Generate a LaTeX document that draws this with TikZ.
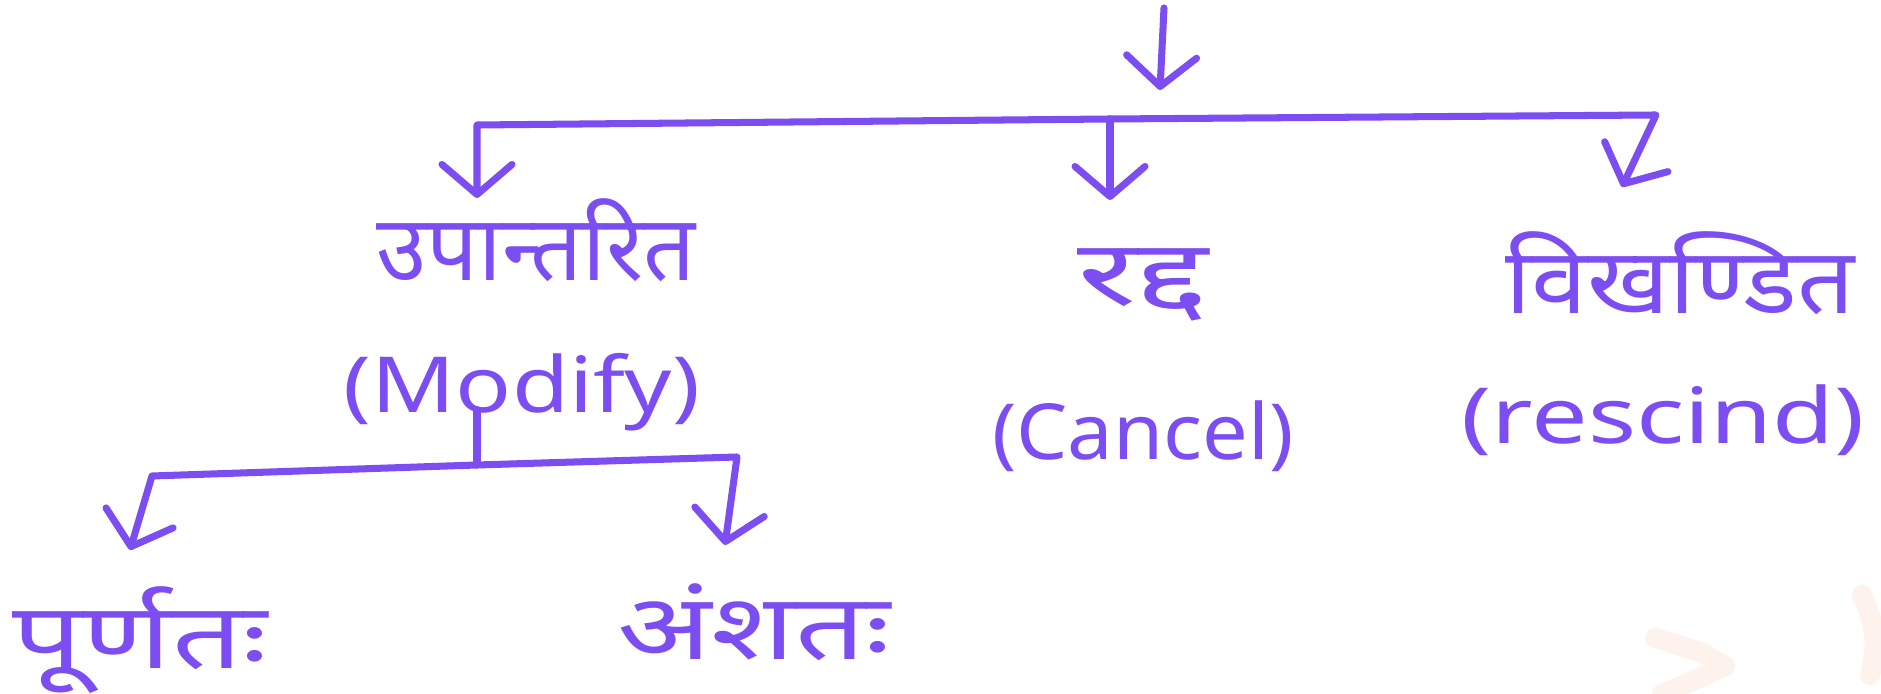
\documentclass[tikz,border=0pt]{standalone}
\usepackage{fontspec}
\setmainfont{Noto Sans}
\newfontfamily\deva[Script=Devanagari]{Noto Sans}
\usetikzlibrary{arrows.meta,calc}
\definecolor{pen}{RGB}{124,77,240}
\definecolor{smudge}{RGB}{254,243,236}
\newcommand{\wide}[2]{\scalebox{#1}[1]{#2}}

\begin{document}
\begin{tikzpicture}[
  hindi/.style={text=pen, font=\deva\fontsize{26}{30}\selectfont, inner sep=0pt},
  eng/.style={text=pen, font=\fontsize{22}{26}\selectfont, inner sep=0pt},
  line/.style={draw=pen, line width=2pt, line cap=round, line join=round},
  arrow/.style={line, -{Straight Barb[length=3mm,width=7mm,round]}}
]
\useasboundingbox (0,0) rectangle (18.81,-6.94);

% faint smudge, bottom right
\draw[smudge, line width=0.2cm, line cap=round, line join=round]
  (16.55,-6.38) -- (17.00,-6.52) -- (17.25,-6.66) -- (16.95,-6.80) -- (16.62,-6.94);
\draw[smudge, line width=0.2cm, line cap=round] (18.62,-5.95) to[bend left=20] (18.70,-6.75);

% first level
\node[hindi] (upa) at (5.36,-2.40) {उपान्तरित};
\node[eng] (modify) at (5.22,-3.92) {\wide{1.2}{(Modify)}};
\node[hindi] (rad) at (11.43,-2.85) {\wide{1.6}{रद्द}};
\node[eng] (cancel) at (11.43,-4.36) {\wide{1.05}{(Cancel)}};
\node[hindi] (vikh) at (16.80,-2.73) {\wide{1.1}{विखण्डित}};
\node[eng] (rescind) at (16.63,-4.20) {\wide{1.3}{(rescind)}};

% second level
\node[hindi] (purn) at (1.40,-6.40) {\wide{1.35}{पूर्णतः}};
\node[hindi] (amsh) at (7.54,-6.22) {\wide{1.35}{अंशतः}};

% bracket points
\coordinate (entry) at (11.64,-0.08);
\coordinate (entrytip) at (11.60,-0.90);
\coordinate (barL) at (4.77,-1.25);
\coordinate (barM) at (11.10,-1.19);
\coordinate (barR) at (16.56,-1.15);
\coordinate (tipL) at (4.77,-1.98);
\coordinate (tipM) at (11.10,-2.00);
\coordinate (tipR) at (16.22,-1.87);
\coordinate (subL) at (1.52,-4.76);
\coordinate (subM) at (4.77,-4.65);
\coordinate (subR) at (7.37,-4.57);
\coordinate (subtipL) at (1.30,-5.50);
\coordinate (subtipR) at (7.25,-5.45);

% arrows
\draw[arrow] (entry) -- (entrytip);
\draw[arrow] (barM) -- (barL) -- (tipL);
\draw[arrow] (barM) -- (tipM);
\draw[arrow] (barM) -- (barR) -- (tipR);

\draw[line] ($(subM |- modify.south)+(0,0.22)$) -- (subM);
\draw[arrow] (subM) -- (subL) -- (subtipL);
\draw[arrow] (subM) -- (subR) -- (subtipR);

\end{tikzpicture}
\end{document}
